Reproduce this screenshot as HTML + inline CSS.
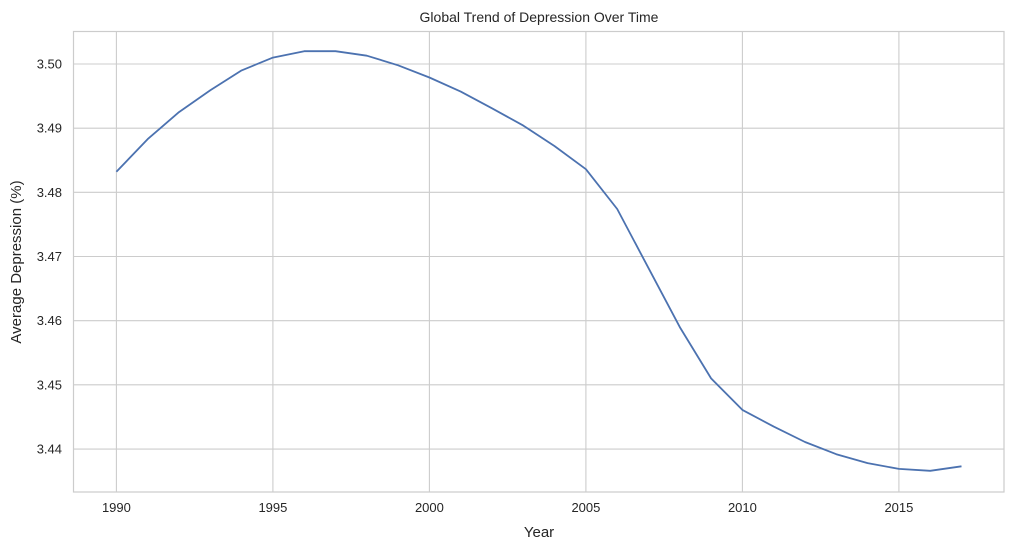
<!DOCTYPE html>
<html><head><meta charset="utf-8"><style>
html,body{margin:0;padding:0;background:#fff;}
svg{display:block;font-family:"Liberation Sans",sans-serif;}
</style></head><body>
<svg id="chart" width="1013" height="550" viewBox="0 0 1013 550" xmlns="http://www.w3.org/2000/svg">
<text x="539" y="22" text-anchor="middle" font-size="14" fill="#262626">Global Trend of Depression Over Time</text>
<text x="539" y="537" text-anchor="middle" font-size="15" fill="#262626">Year</text>
<text transform="translate(21,262) rotate(-90)" text-anchor="middle" font-size="15" fill="#262626">Average Depression (%)</text>
<g id="grid"></g>
<g id="ticks"></g>
<rect x="73.5" y="31.5" width="930.5" height="460.5" fill="none" stroke="#cccccc" stroke-width="1.2"/>
<path id="line" fill="none" stroke="#4c72b0" stroke-width="1.8" stroke-linejoin="round"/>
</svg>
<script>
const years = [1990,1991,1992,1993,1994,1995,1996,1997,1998,1999,2000,2001,2002,2003,2004,2005,2006,2007,2008,2009,2010,2011,2012,2013,2014,2015,2016,2017];
const values = [3.4832,3.4883,3.4925,3.4959,3.4990,3.5010,3.5020,3.5020,3.5013,3.4998,3.4979,3.4957,3.4931,3.4904,3.4872,3.4836,3.4774,3.4682,3.4590,3.4510,3.4461,3.4435,3.4411,3.4392,3.4378,3.4369,3.4366,3.4373];
const xTicks = [1990,1995,2000,2005,2010,2015];
const yTicks = [3.44,3.45,3.46,3.47,3.48,3.49,3.50];
const yTickLabels = ["3.44","3.45","3.46","3.47","3.48","3.49","3.50"];

const NS = "http://www.w3.org/2000/svg";
function xs(y){ return 116.4 + (y-1990)*31.3; }
function ys(v){ return 64 + (3.50-v)*6417; }
const grid = document.getElementById('grid');
const ticks = document.getElementById('ticks');
xTicks.forEach(t=>{
  const l = document.createElementNS(NS,'line');
  
  
  l.setAttribute('x1',xs(t)); l.setAttribute('x2',xs(t));
  l.setAttribute('y1',31.5); l.setAttribute('y2',492);
  l.setAttribute('stroke','#cccccc'); l.setAttribute('stroke-width','1.1');
  grid.appendChild(l);
  const tx = document.createElementNS(NS,'text');
  
  
  tx.setAttribute('x',xs(t)); tx.setAttribute('y',512);
  tx.setAttribute('text-anchor','middle'); tx.setAttribute('font-size','13'); tx.setAttribute('fill','#262626');
  tx.textContent = t;
  ticks.appendChild(tx);
});
yTicks.forEach((t,i)=>{
  const l = document.createElementNS(NS,'line');
  
  
  l.setAttribute('x1',73.5); l.setAttribute('x2',1004);
  l.setAttribute('y1',ys(t)); l.setAttribute('y2',ys(t));
  l.setAttribute('stroke','#cccccc'); l.setAttribute('stroke-width','1.1');
  grid.appendChild(l);
  const tx = document.createElementNS(NS,'text');
  
  
  tx.setAttribute('x',62); tx.setAttribute('y',ys(t)+4.5);
  tx.setAttribute('text-anchor','end'); tx.setAttribute('font-size','13'); tx.setAttribute('fill','#262626');
  tx.textContent = yTickLabels[i];
  ticks.appendChild(tx);
});
document.getElementById('line').setAttribute('d', years.map((y,i)=>(i?'L':'M')+xs(y).toFixed(1)+','+ys(values[i]).toFixed(1)).join(' '));
</script>
</body></html>
